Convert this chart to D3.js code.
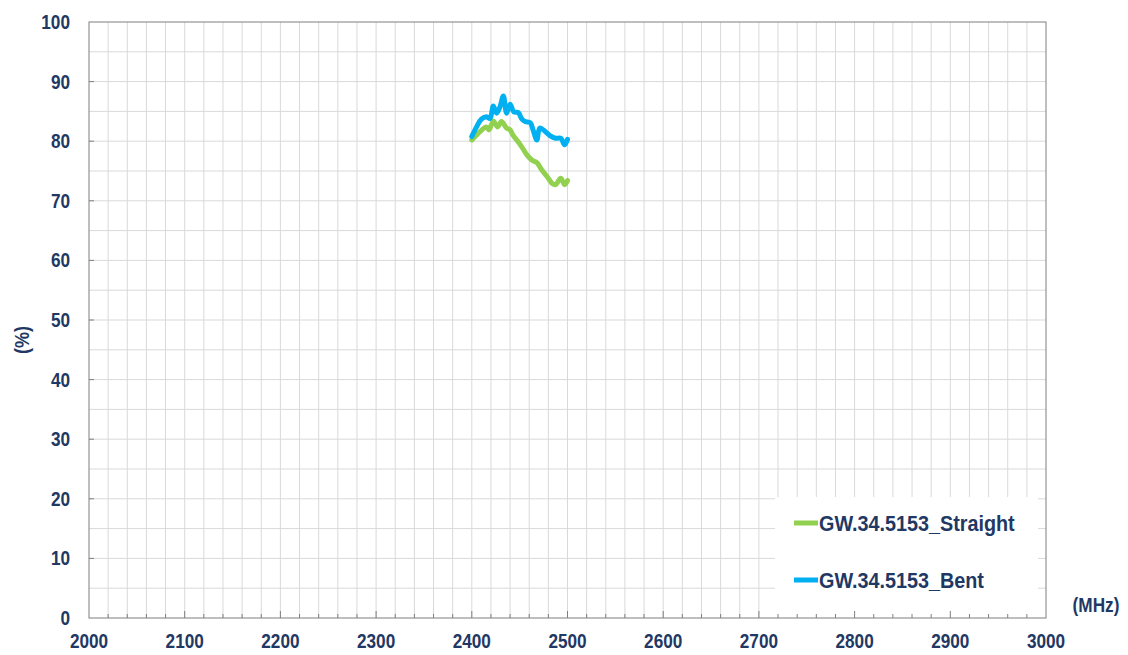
<!DOCTYPE html>
<html><head><meta charset="utf-8">
<script src="https://cdn.jsdelivr.net/npm/d3@7"></script>
<style>body{margin:0;background:#fff;} text{font-family:"Liberation Sans",Arial,sans-serif;font-weight:bold;fill:#1f3864;}</style>
</head><body><svg id="c" width="1128" height="655"></svg>
<script>
const xTicks = [2000,2100,2200,2300,2400,2500,2600,2700,2800,2900,3000];
const yTicks = [0,10,20,30,40,50,60,70,80,90,100];
const seriesNames = ["GW.34.5153_Straight","GW.34.5153_Bent"];
const seriesColors = ["#92d050","#00b0f0"];
const straightFreq = [2400,2408.6,2415,2418,2422.5,2427,2431,2436.4,2440,2443,2447,2452,2457.6,2463,2468,2473,2479,2484,2487.6,2493,2497,2500];
const straightVal  = [80.2,81.6,82.4,81.9,83.4,82.4,83.3,82.2,81.9,81.0,80.2,79.1,77.7,76.8,76.4,75.2,74.0,72.9,72.7,73.8,72.7,73.4];
const bentFreq = [2400,2405,2410,2415.5,2419,2422.5,2426,2429.5,2433,2436.4,2440,2444,2448.6,2452,2455.7,2461,2464,2468,2471,2477,2482,2487.6,2493,2497,2500];
const bentVal  = [80.8,82.4,83.7,84.1,83.8,85.9,84.7,85.8,87.6,84.7,86.2,84.9,84.8,83.8,83.3,83.1,81.9,80.2,82.2,81.6,80.9,80.5,80.5,79.4,80.3];

const svg = d3.select("#c");
const L=89, R=1046, T=22, B=618;
const x = d3.scaleLinear().domain([2000,3000]).range([L,R]);
const y = d3.scaleLinear().domain([0,100]).range([B,T]);
const SX = 0.86;

const g = svg.append("g");
g.selectAll("line.vx").data(d3.range(2020,3000,20)).join("line")
  .attr("x1",d=>x(d)).attr("x2",d=>x(d)).attr("y1",T).attr("y2",B)
  .attr("stroke","#d9d9d9").attr("stroke-width",1);
g.selectAll("line.hy").data(d3.range(5,100,5)).join("line")
  .attr("y1",d=>y(d)).attr("y2",d=>y(d)).attr("x1",L).attr("x2",R)
  .attr("stroke","#d9d9d9").attr("stroke-width",1);

svg.append("rect").attr("x",775).attr("y",497).attr("width",263).attr("height",B-497).attr("fill","#fff");

svg.append("rect").attr("x",L).attr("y",T).attr("width",R-L).attr("height",B-T)
  .attr("fill","none").attr("stroke","#7f7f7f").attr("stroke-width",1);

svg.selectAll("line.xt").data(d3.range(2020,3000,20)).join("line")
  .attr("x1",d=>x(d)).attr("x2",d=>x(d)).attr("y1",B).attr("y2",d=>B-(d%100===0?7:4))
  .attr("stroke","#7f7f7f");
svg.selectAll("line.yt").data(yTicks.slice(1,-1)).join("line")
  .attr("y1",d=>y(d)).attr("y2",d=>y(d)).attr("x1",L).attr("x2",L+5)
  .attr("stroke","#7f7f7f");

svg.selectAll("text.yl").data(yTicks).join("text")
  .attr("transform",d=>`translate(70,${y(d)+7}) scale(${SX},1)`).attr("text-anchor","end").attr("font-size",20).text(d=>d);
svg.selectAll("text.xl").data(xTicks).join("text")
  .attr("transform",d=>`translate(${x(d)},648) scale(${SX},1)`).attr("text-anchor","middle").attr("font-size",20).text(d=>d);
svg.append("text").attr("transform","translate(29,340) rotate(-90) scale(0.9,1)").attr("text-anchor","middle")
  .attr("font-size",20).text("(%)");
svg.append("text").attr("transform",`translate(1096,612) scale(${SX},1)`).attr("text-anchor","middle").attr("font-size",20).text("(MHz)");

const line = d3.line().x(d=>x(d[0])).y(d=>y(d[1])).curve(d3.curveCatmullRom.alpha(0.5));
const sets = [d3.zip(straightFreq,straightVal), d3.zip(bentFreq,bentVal)];
sets.forEach((s,i)=>{
  svg.append("path").datum(s).attr("d",line).attr("fill","none")
    .attr("stroke",seriesColors[i]).attr("stroke-width",5)
    .attr("stroke-linejoin","round").attr("stroke-linecap","round");
});

const ly=[523,580];
seriesNames.forEach((n,i)=>{
  svg.append("line").attr("x1",794).attr("x2",818).attr("y1",ly[i]).attr("y2",ly[i])
    .attr("stroke",seriesColors[i]).attr("stroke-width",5);
  svg.append("text").attr("transform",`translate(819,${ly[i]+8}) scale(0.9,1)`).attr("font-size",22).text(n);
});
</script></body></html>
